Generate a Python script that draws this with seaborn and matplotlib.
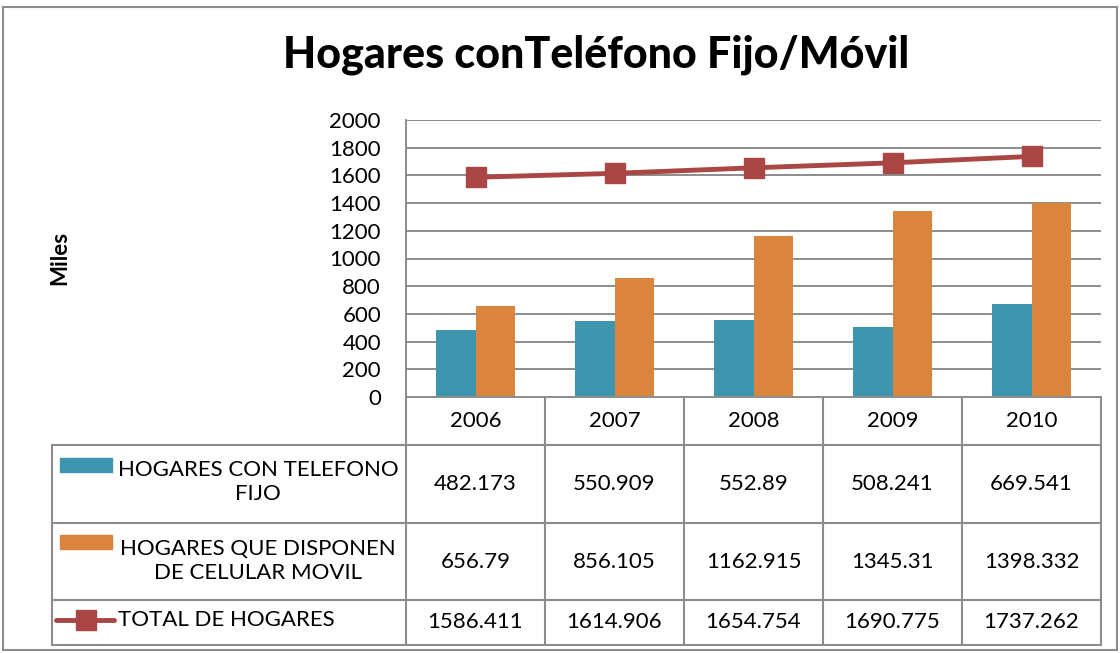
import matplotlib
matplotlib.use('Agg')
import matplotlib.pyplot as plt
import matplotlib.transforms as mtransforms
from matplotlib.patches import Rectangle
from matplotlib.lines import Line2D
import seaborn as sns
import pandas as pd

years = ['2006', '2007', '2008', '2009', '2010']
fijo = [482.173, 550.909, 552.89, 508.241, 669.541]
movil = [656.79, 856.105, 1162.915, 1345.31, 1398.332]
total = [1586.411, 1614.906, 1654.754, 1690.775, 1737.262]
series_names = ['HOGARES CON TELEFONO\nFIJO', 'HOGARES QUE DISPONEN\nDE CELULAR MOVIL', 'TOTAL DE HOGARES']
colors = ['#3D96AE', '#DB843D', '#AA4643']
title = 'Hogares conTeléfono Fijo/Móvil'

sns.set_style('white')
plt.rcParams['font.family'] = ['Lato', 'DejaVu Sans']
plt.rcParams['text.color'] = 'black'
plt.rcParams['ytick.color'] = 'black'

W, H = 1120, 653
fig = plt.figure(figsize=(11.2, 6.53), dpi=100)


def fx(px):
    return px / W


def fy(py):
    return 1 - py / H


grey = '#8c8c8c'
ax = fig.add_axes([fx(406), fy(397), fx(1101) - fx(406), fy(120) - fy(397)])

df = pd.DataFrame({'year': years * 2,
                   'value': fijo + movil,
                   'serie': [series_names[0]] * 5 + [series_names[1]] * 5})
sns.barplot(data=df, x='year', y='value', hue='serie', palette=colors[:2],
            width=0.575, gap=0, saturation=1, legend=False, ax=ax,
            edgecolor='none', errorbar=None)
ax.plot(range(len(years)), total, color=colors[2], lw=3.5, marker='s',
        markersize=15, zorder=5)

ax.set_xlim(-0.5, 4.5)
ax.set_ylim(0, 2000)
ax.set_yticks(range(0, 2001, 200))
ax.yaxis.grid(True, color=grey, lw=1.4)
ax.set_axisbelow(True)
ax.set_xticks([])
ax.set_xlabel('')
ax.set_ylabel('')
for s in ['top', 'right']:
    ax.spines[s].set_visible(False)
for s in ['left', 'bottom']:
    ax.spines[s].set_color(grey)
    ax.spines[s].set_linewidth(1.4)
ax.tick_params(axis='y', labelsize=16, length=0, pad=18, labelcolor='black')

fig.text(fx(596), fy(55), title, fontsize=31, fontweight='black', ha='center', va='center')
fig.text(fx(60), fy(258), 'Miles', rotation=90, fontsize=16, fontweight='bold',
         ha='center', va='center')

# data table under the chart
tr = mtransforms.blended_transform_factory(ax.transData, fig.transFigure)
for i in range(len(years) + 1):
    b = i - 0.5
    fig.add_artist(Line2D([b, b], [fy(397), fy(645)], transform=tr, color=grey, lw=1.5))
fig.add_artist(Line2D([fx(52), fx(52)], [fy(445), fy(645)], transform=fig.transFigure,
                      color=grey, lw=1.5))
for y in [445, 523, 600, 645]:
    fig.add_artist(Line2D([fx(52), fx(1101)], [fy(y), fy(y)], transform=fig.transFigure,
                          color=grey, lw=1.5))

for i, yr in enumerate(years):
    fig.text(i, fy(421), yr, transform=tr, ha='center', va='center', fontsize=16)
for row_y, vals in zip([484, 562, 622], [fijo, movil, total]):
    for i, v in enumerate(vals):
        fig.text(i, fy(row_y), str(v), transform=tr, ha='center', va='center', fontsize=16)

# legend keys
for c, top_y, txt_y, name in zip(colors[:2], [458, 535], [482, 561], series_names[:2]):
    fig.add_artist(Rectangle((fx(60), fy(top_y + 14)), fx(112) - fx(60), 14 / H,
                             transform=fig.transFigure, color=c))
    fig.text(fx(258), fy(txt_y), name, ha='center', va='center', fontsize=16,
             multialignment='center', linespacing=1.25)
fig.add_artist(Line2D([fx(56), fx(114)], [fy(620), fy(620)], transform=fig.transFigure,
                      color=colors[2], lw=3.5))
fig.add_artist(Line2D([fx(86)], [fy(620)], transform=fig.transFigure, color=colors[2],
                      marker='s', markersize=15, lw=0))
fig.text(fx(118), fy(620), series_names[2], ha='left', va='center', fontsize=16)

fig.add_artist(Rectangle((fx(3), fy(650)), fx(1117) - fx(3), fy(7) - fy(650),
                         transform=fig.transFigure, fill=False, edgecolor=grey, lw=1.5))

fig.savefig('out.png', dpi=100)
